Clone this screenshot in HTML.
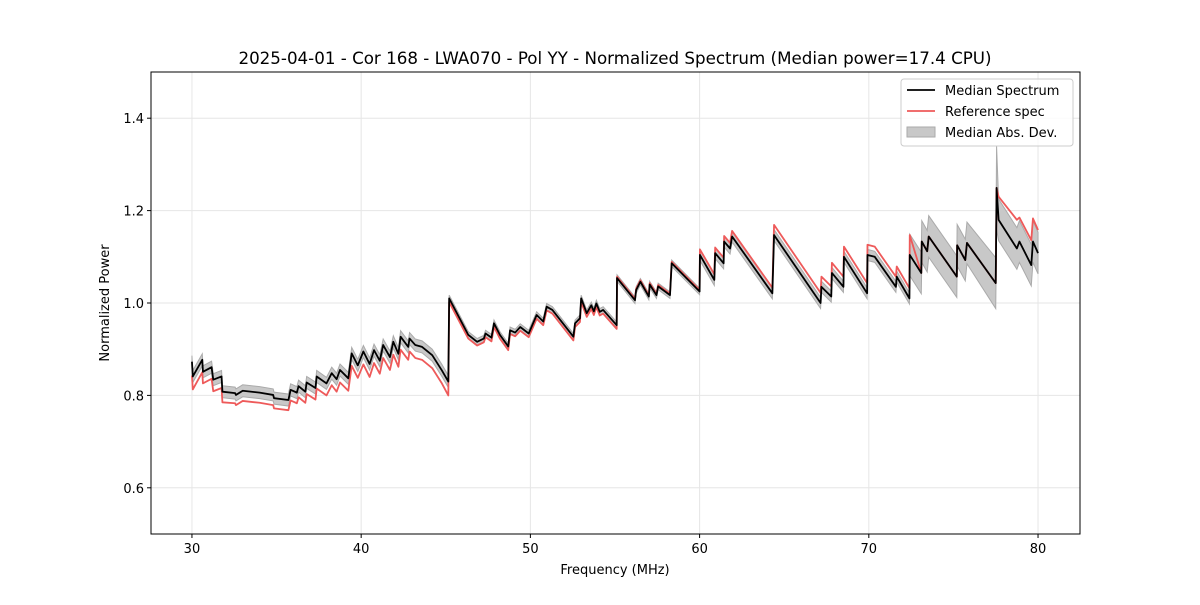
<!DOCTYPE html>
<html><head><meta charset="utf-8"><style>
body{margin:0;background:#fff;}
svg text{font-family:"DejaVu Sans","Liberation Sans",sans-serif;}
</style></head><body>
<svg id="chart" width="1200" height="600" xmlns="http://www.w3.org/2000/svg">
<rect width="1200" height="600" fill="#fff"/>
<g id="grid"></g>
<g id="series"></g>
<rect x="151" y="72" width="929" height="462" fill="none" stroke="#000" stroke-width="1"/>
<g id="ticks"></g>
<text x="615" y="64" text-anchor="middle" font-size="16.7">2025-04-01 - Cor 168 - LWA070 - Pol YY - Normalized Spectrum (Median power=17.4 CPU)</text>
<text x="615" y="574" text-anchor="middle" font-size="13">Frequency (MHz)</text>
<text x="109" y="303" text-anchor="middle" font-size="13" transform="rotate(-90 109 303)">Normalized Power</text>
<g>
<rect x="901" y="79" width="172" height="67" rx="3" fill="#fff" fill-opacity="0.8" stroke="#ccc"/>
<g><line x1="907" y1="90" x2="935" y2="90" stroke="#000" stroke-width="1.8"/><text x="945" y="95" font-size="13">Median Spectrum</text></g>
<g><line x1="907" y1="111" x2="935" y2="111" stroke="#ee5a5a" stroke-width="1.8"/><text x="945" y="116" font-size="13">Reference spec</text></g>
<g><rect x="907" y="127" width="28" height="10" fill="#c8c8c8" stroke="#aaa"/><text x="945" y="137" font-size="13">Median Abs. Dev.</text></g>
</g>
</svg>
<script>
const freqs=[30.00,30.05,30.61,30.65,31.16,31.26,31.75,31.80,32.55,32.60,33.00,34.00,34.80,34.85,35.70,35.83,36.20,36.30,36.70,36.78,37.30,37.37,37.95,38.26,38.55,38.75,39.24,39.44,39.80,40.13,40.50,40.76,41.10,41.30,41.70,41.90,42.20,42.33,42.78,42.86,43.20,43.60,44.20,44.77,45.15,45.20,46.33,46.85,47.25,47.35,47.70,47.85,48.20,48.69,48.80,49.10,49.40,49.90,50.37,50.76,50.96,51.30,52.54,52.64,52.93,53.00,53.33,53.60,53.75,53.90,54.10,54.30,55.10,55.12,56.18,56.25,56.50,57.00,57.05,57.45,57.55,58.25,58.35,60.00,60.02,60.87,60.92,61.42,61.45,61.80,61.92,64.30,64.40,67.15,67.20,67.78,67.82,68.50,68.53,69.90,69.92,70.35,71.60,71.65,72.40,72.42,73.10,73.13,73.45,73.54,75.20,75.22,75.70,75.80,77.50,77.55,77.67,78.75,78.90,79.60,79.70,80.00];
const median=[0.873,0.841,0.877,0.851,0.861,0.834,0.841,0.808,0.805,0.801,0.810,0.806,0.801,0.794,0.790,0.812,0.806,0.820,0.808,0.828,0.816,0.841,0.826,0.848,0.835,0.855,0.837,0.891,0.865,0.895,0.868,0.898,0.875,0.909,0.883,0.916,0.890,0.927,0.905,0.923,0.909,0.905,0.887,0.854,0.830,1.010,0.931,0.916,0.923,0.934,0.925,0.956,0.931,0.906,0.941,0.936,0.948,0.934,0.974,0.960,0.992,0.985,0.927,0.956,0.967,1.010,0.978,0.995,0.982,0.999,0.981,0.985,0.952,1.054,1.006,1.028,1.046,1.014,1.040,1.017,1.036,1.017,1.086,1.025,1.104,1.050,1.108,1.086,1.133,1.118,1.144,1.021,1.147,1.000,1.035,1.014,1.065,1.035,1.100,1.021,1.104,1.100,1.035,1.057,1.010,1.104,1.065,1.133,1.112,1.144,1.057,1.125,1.093,1.130,1.043,1.249,1.180,1.118,1.133,1.082,1.133,1.108];
const reference=[0.843,0.813,0.850,0.826,0.836,0.809,0.816,0.785,0.783,0.779,0.788,0.784,0.779,0.772,0.768,0.789,0.783,0.796,0.784,0.803,0.791,0.815,0.800,0.822,0.808,0.828,0.810,0.864,0.838,0.867,0.840,0.870,0.847,0.881,0.855,0.888,0.862,0.899,0.877,0.895,0.881,0.877,0.859,0.826,0.800,1.002,0.923,0.908,0.915,0.926,0.917,0.948,0.923,0.898,0.933,0.928,0.940,0.926,0.966,0.952,0.984,0.977,0.919,0.948,0.959,1.002,0.970,0.987,0.974,0.991,0.973,0.977,0.944,1.057,1.009,1.031,1.049,1.017,1.043,1.020,1.039,1.020,1.089,1.028,1.116,1.062,1.120,1.098,1.145,1.130,1.156,1.033,1.169,1.022,1.057,1.036,1.087,1.057,1.122,1.043,1.126,1.122,1.057,1.079,1.032,1.147,1.065,1.133,1.112,1.144,1.057,1.125,1.093,1.130,1.043,1.249,1.230,1.180,1.185,1.136,1.183,1.158];
const mad=[0.013,0.013,0.013,0.013,0.013,0.013,0.013,0.013,0.013,0.013,0.013,0.013,0.013,0.013,0.013,0.013,0.013,0.013,0.013,0.013,0.013,0.013,0.013,0.013,0.013,0.013,0.013,0.013,0.013,0.013,0.013,0.013,0.013,0.013,0.013,0.013,0.013,0.013,0.013,0.013,0.013,0.013,0.013,0.013,0.013,0.007,0.007,0.007,0.007,0.007,0.007,0.007,0.007,0.007,0.007,0.007,0.007,0.007,0.007,0.007,0.007,0.007,0.007,0.007,0.007,0.007,0.007,0.007,0.007,0.007,0.007,0.007,0.007,0.007,0.007,0.007,0.007,0.007,0.007,0.007,0.007,0.007,0.007,0.007,0.012,0.012,0.012,0.012,0.012,0.012,0.012,0.012,0.012,0.012,0.012,0.012,0.012,0.012,0.012,0.012,0.012,0.012,0.012,0.012,0.012,0.045,0.045,0.045,0.045,0.045,0.045,0.045,0.045,0.045,0.055,0.09,0.045,0.045,0.045,0.045,0.045,0.045];
const xTicks=[30,40,50,60,70,80];
const yTicks=[0.6,0.8,1.0,1.2,1.4];
const X0=151,X1=1080,Y0=72,Y1=534,XMIN=27.58,XMAX=82.48,YMIN=0.5,YMAX=1.5;
const sx=f=>X0+(f-XMIN)/(XMAX-XMIN)*(X1-X0);
const sy=v=>Y1-(v-YMIN)/(YMAX-YMIN)*(Y1-Y0);
const NS="http://www.w3.org/2000/svg";
function mk(tag,attrs,parent){const e=document.createElementNS(NS,tag);for(const k in attrs)e.setAttribute(k,attrs[k]);parent.appendChild(e);return e;}
const grid=document.getElementById('grid'),ticks=document.getElementById('ticks'),series=document.getElementById('series');
xTicks.forEach(t=>{const x=sx(t);
 const g=mk('line',{x1:x,x2:x,y1:Y0,y2:Y1,stroke:'#e6e6e6','stroke-width':1},grid);
 
 
 mk('line',{x1:x,x2:x,y1:Y1,y2:Y1+4,stroke:'#000'},ticks);
 const l=mk('text',{x:x,y:Y1+19,'text-anchor':'middle','font-size':13},ticks);l.textContent=t;
 
 });
yTicks.forEach(t=>{const y=sy(t);
 const g=mk('line',{x1:X0,x2:X1,y1:y,y2:y,stroke:'#e6e6e6','stroke-width':1},grid);
 
 
 mk('line',{x1:X0-4,x2:X0,y1:y,y2:y,stroke:'#000'},ticks);
 const l=mk('text',{x:X0-7,y:y+5,'text-anchor':'end','font-size':13},ticks);l.textContent=t.toFixed(1);
 
 });
let up=freqs.map((f,i)=>sx(f)+','+sy(median[i]+mad[i]));
let lo=freqs.map((f,i)=>sx(f)+','+sy(median[i]-mad[i])).reverse();
const band=mk('polygon',{points:up.concat(lo).join(' '),fill:'#c8c8c8',stroke:'#aaa','stroke-width':1},series);


const rl=mk('polyline',{points:freqs.map((f,i)=>sx(f)+','+sy(reference[i])).join(' '),fill:'none',stroke:'#ee5a5a','stroke-width':1.8,'stroke-linejoin':'round'},series);


const ml=mk('polyline',{points:freqs.map((f,i)=>sx(f)+','+sy(median[i])).join(' '),fill:'none',stroke:'#000','stroke-width':1.8,'stroke-linejoin':'round'},series);


</script>
</body></html>
